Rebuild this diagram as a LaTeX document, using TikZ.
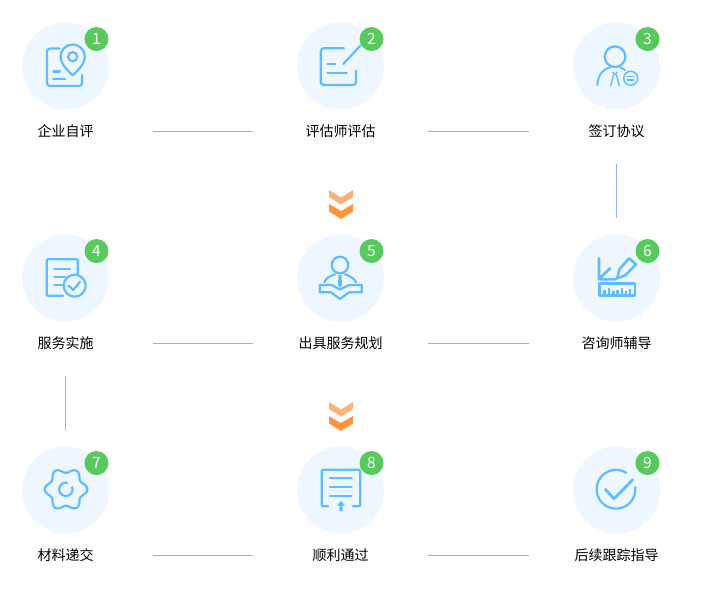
\documentclass[tikz,border=0pt]{standalone}
\usepackage{fontspec}
\setmainfont{Noto Sans CJK SC}
\definecolor{disc}{HTML}{EEF7FF}
\definecolor{badge}{HTML}{57C95D}
\definecolor{ink}{HTML}{5FBDFF}
\definecolor{rule}{HTML}{86B6EC}
\definecolor{chevA}{HTML}{FFB277}
\definecolor{chevB}{HTML}{FF953D}
\begin{document}
\begin{tikzpicture}[x=1pt, y=-1pt, line join=round, line cap=round]
	\tikzset{
		disk/.style={circle,fill=disc,minimum size=87pt,inner sep=0},
		num/.style={circle,fill=badge,minimum size=24pt,inner sep=0,text=white,font=\fontsize{15.5}{15.5}\selectfont},
		lab/.style={minimum width=175pt,minimum height=64pt,inner sep=0,font=\fontsize{14}{16}\selectfont},
		ico/.style={draw=ink,line width=2.2pt},
		link/.style={draw=rule,line width=0.8pt,line cap=butt}}
	\useasboundingbox(0,0)rectangle(708,598);
	% discs, badges and captions
	\foreach \n/\cx/\cy/\txt in {
		1/65.5/66/企业自评,2/340.5/66/评估师评估,3/616.5/66/签订协议,
		4/65.5/278/服务实施,5/340.5/278/出具服务规划,6/616.5/278/咨询师辅导,
		7/65.5/490/材料递交,8/340.5/490/顺利通过,9/616.5/490/后续跟踪指导}
	{
		\node[disk](c\n)at(\cx,\cy){};
		\path(c\n)++(31,-27)node[num](b\n){\n};
		\path(c\n)++(0,65.5)node[lab](t\n){\txt};
	}
	\foreach \x/\y in {
		t1/t2,t2/t3,
		t4/t5,t5/t6,
		t7/t8,t8/t9}
	\draw[link](\x.east)--(\y.west);
	\draw[link,shorten >=16.5pt](t3.south)--(c6.north);
	\draw[link,shorten >=16.5pt](t4.south)--(c7.north);
	% chevrons
	\foreach \dy in {0,212}{
		\fill[chevA](329,190+\dy)--(341,197.5+\dy)--(353,190+\dy)--(353,197+\dy)--(341,204.5+\dy)--(329,197+\dy)--cycle;
		\fill[chevB](329,204+\dy)--(341,211+\dy)--(353,204+\dy)--(353,211.5+\dy)--(341,219+\dy)--(329,211.5+\dy)--cycle;
	}
	% 1
	\draw[ico,rounded corners=3pt](59.5,48.5)--(47,48.5)--(47,86)--(82,86)--(82,75);
	\draw[ico](72.7,75.3)..controls(66,69)and(60.5,63)..(60.5,56.7)arc[start angle=180,end angle=360,radius=12.2]..controls(84.9,63)and(79.4,69)..cycle;
	\draw[ico](72.7,56.7)circle(4.6);
	\draw[ico](53.5,71.5)--(60,71.5)(53.5,78.7)--(65.3,78.7);
	% 2
	\draw[ico,rounded corners=3pt](344,48.3)--(320.7,48.3)--(320.7,85)--(356,85)--(356,70.7);
	\draw[ico](343.3,64)--(360.7,45.3);
	\draw[ico](327.3,64)--(335.3,64)(327.3,73.3)--(346.7,73.3);
	% 3
	\draw[ico](615,56.7)circle(10.3);
	\draw[ico,line width=1.9pt](597.3,85)..controls(598,75)and(603,69)..(610,67.3);
	\draw[ico,line width=1.9pt](620,67.3)--(625,70);
	\draw[ico,line width=1.3pt](612.7,72)--(615,74.5)--(617.3,72)(613.5,75)--(610.7,86)(616.5,75)--(619.3,86);
	\draw[ico,line width=1.5pt](630.7,78.3)circle(7);
	\draw[ico,line width=1.3pt](627,76.5)--(634,76.5)(627,80)--(634,80);
	% 4
	\draw[ico,rounded corners=1pt](63,295.7)--(46.7,295.7)--(46.7,259.3)--(77.7,259.3)--(77.7,276.7);
	\draw[ico](54.3,269.3)--(70,269.3)(54.3,277.3)--(65,277.3)(54.3,285)--(62.7,285);
	\draw[ico,fill=disc](74.7,285.7)circle(11);
	\draw[ico](68.7,285.7)--(73.3,290)--(80,281.7);
	% 5
	\draw[ico](340,265)circle(8.3);
	\draw[ico](324.3,282.3)..controls(326,278)and(330,276)..(335,274.3);
	\draw[ico](356,282.3)..controls(354,278)and(350,276)..(345,274.3);
	\fill[ink](338.5,275)--(341.5,275)--(342,285)--(340,288)--(338,285)--cycle;
	\draw[ico](331.7,285)--(319.7,285)--(319.7,292.3)--(331,292.3)--(340,299)--(349,292.3)--(361.7,292.3)--(361.7,285)--(349,285)--(340,289.5)--cycle;
	% 6
	\draw[ico,line width=2.6pt](599,258.3)--(599,279.3)--(616,279.3)(599,279.3)--(610,268.3);
	\draw[ico,line width=2.6pt](617.3,278.3)--(619.3,269.3)--(629.3,258.3)--(636,264.3)--(625.7,275)--cycle;
	\draw[ico,line width=2.6pt](599.5,283.5)rectangle(635,295.5);
	\foreach \tx/\ty in {604.3/290,609/288,613.3/291,617.3/289.5,621.7/288,625.7/291,630/289}
	\draw[ico,line width=2.4pt,line cap=butt](\tx,295.5)--(\tx,\ty);
	% 7
	\draw[ico]plot[smooth,domain=0:360,samples=73]({66+(18.9+2.5*cos(6*\x))*cos(\x)},{489.3+(18.9+2.5*cos(6*\x))*sin(\x)});
	\draw[ico](72.2,487)arc[start angle=-20,end angle=280,radius=6.7];
	% 8
	\draw[ico,rounded corners=1pt](328.3,506.3)--(321.7,506.3)--(321.7,469.7)--(360.3,469.7)--(360.3,506.3)--(353,506.3);
	\draw[ico](330,478.3)--(351.7,478.3)(330,487.3)--(351.7,487.3)(330,496)--(351.7,496);
	\fill[ink](341,500.8)--(345,505.7)--(342.7,505.7)--(342.7,511)--(339.3,511)--(339.3,505.7)--(337,505.7)--cycle;
	% 9
	\draw[ico](635.25,486.9)arc[start angle=-7,end angle=302,radius=19.4];
	\draw[ico,line width=2.8pt](605.3,489.3)--(614,498.7)--(632.7,479.7);
\end{tikzpicture}
\end{document}
